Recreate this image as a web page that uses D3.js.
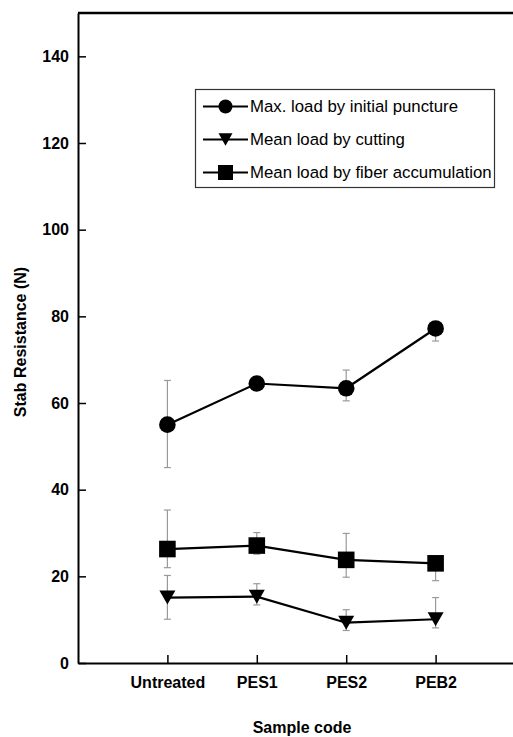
<!DOCTYPE html>
<html>
<head>
<meta charset="utf-8">
<script src="https://cdn.jsdelivr.net/npm/d3@7"></script>
<style>
  html, body { margin: 0; padding: 0; background: #fff; }
  svg { display: block; font-family: "Liberation Sans", Arial, sans-serif; }
</style>
</head>
<body>
<svg id="chart" width="513" height="737"></svg>
<script>
// Sample categories along the x axis
const categories = ["Untreated", "PES1", "PES2", "PEB2"];

// Stab resistance (N) per sample, with upper / lower error extents
const puncture = [55.0, 64.5, 63.4, 77.2];
const punctureErrHi = [10.2, 1.5, 4.2, 1.5];
const punctureErrLo = [9.9, 1.5, 2.9, 2.9];

const cutting = [15.1, 15.3, 9.3, 10.1];
const cuttingErrHi = [5.1, 3.0, 3.0, 5.0];
const cuttingErrLo = [5.0, 1.9, 1.8, 2.0];

const accumulation = [26.3, 27.1, 23.8, 23.0];
const accumulationErrHi = [9.0, 3.0, 6.1, 1.5];
const accumulationErrLo = [4.3, 2.0, 4.0, 4.0];

const seriesNames = [
  "Max. load by initial puncture",
  "Mean load by cutting",
  "Mean load by fiber accumulation"
];
const yTicks = [0, 20, 40, 60, 80, 100, 120, 140];

const series = [
  { name: seriesNames[0], shape: "circle",   values: puncture,     hi: punctureErrHi,     lo: punctureErrLo },
  { name: seriesNames[1], shape: "triangle", values: cutting,      hi: cuttingErrHi,      lo: cuttingErrLo },
  { name: seriesNames[2], shape: "square",   values: accumulation, hi: accumulationErrHi, lo: accumulationErrLo }
];

const svg = d3.select("#chart");

const x0 = 78, yBottom = 663, yTop = 13, step = 89.4;
const x = d3.scaleLinear().domain([0, 5]).range([x0, x0 + 5 * step]);
const y = d3.scaleLinear().domain([0, 150]).range([yBottom, yTop]);

// Marker shape generator (s = nominal width in px)
function markerPath(shape, s) {
  const h = s / 2;
  if (shape === "circle") {
    const p = d3.path();
    p.arc(0, 0, h, 0, 2 * Math.PI);
    p.closePath();
    return p.toString();
  }
  if (shape === "square") {
    return `M${-h},${-h}H${h}V${h}H${-h}Z`;
  }
  // downward pointing triangle
  const th = s * 0.88;
  return `M${-h},${-th / 2}H${h}L0,${th / 2}Z`;
}

// Top frame line
svg.append("line")
  .attr("x1", x0).attr("x2", 513)
  .attr("y1", yTop).attr("y2", yTop)
  .attr("stroke", "#000").attr("stroke-width", 2.5);

// Y axis
const yAxis = svg.append("g")
  .attr("transform", `translate(${x0},0)`)
  .call(d3.axisLeft(y).tickValues(yTicks).tickSize(-8).tickPadding(9).tickSizeOuter(0));
yAxis.select(".domain").attr("stroke-width", 2);
yAxis.selectAll(".tick line").attr("stroke-width", 1.5);
yAxis.selectAll(".tick text")
  .attr("font-size", 16).attr("font-weight", "bold").attr("fill", "#000")
  .attr("font-family", "Liberation Sans, Arial, sans-serif");

// X axis
const xAxis = svg.append("g")
  .attr("transform", `translate(0,${yBottom})`)
  .call(d3.axisBottom(x).tickValues([1, 2, 3, 4])
    .tickFormat(d => categories[d - 1]).tickSize(-8).tickPadding(14).tickSizeOuter(0));
xAxis.select(".domain").attr("stroke-width", 2);
xAxis.selectAll(".tick line").attr("stroke-width", 1.5);
xAxis.selectAll(".tick text")
  .attr("font-size", 16).attr("font-weight", "bold").attr("fill", "#000")
  .attr("font-family", "Liberation Sans, Arial, sans-serif");

// Axis titles
svg.append("text")
  .attr("x", 302).attr("y", 733)
  .attr("text-anchor", "middle")
  .attr("font-size", 16).attr("font-weight", "bold")
  .text("Sample code");

svg.append("text")
  .attr("transform", "translate(26,342) rotate(-90)")
  .attr("text-anchor", "middle")
  .attr("font-size", 16).attr("font-weight", "bold")
  .text("Stab Resistance (N)");

const plot = svg.append("g");

// Error bars
series.forEach(s => {
  s.values.forEach((v, i) => {
    const cx = x(i + 1);
    const g = plot.append("g").attr("stroke", "#9a9a9a").attr("stroke-width", 1.2);
    g.append("line").attr("x1", cx).attr("x2", cx)
      .attr("y1", y(v + s.hi[i])).attr("y2", y(v - s.lo[i]));
    [v + s.hi[i], v - s.lo[i]].forEach(e => {
      g.append("line").attr("x1", cx - 3.5).attr("x2", cx + 3.5)
        .attr("y1", y(e)).attr("y2", y(e));
    });
  });
});

// Lines
const line = d3.line().x((d, i) => x(i + 1)).y(d => y(d));
series.forEach(s => {
  plot.append("path")
    .attr("d", line(s.values))
    .attr("fill", "none").attr("stroke", "#000").attr("stroke-width", 2.2);
});

// Markers
const markerSize = { circle: 16.6, square: 16.6, triangle: 16 };
series.forEach(s => {
  plot.selectAll(null).data(s.values).enter().append("path")
    .attr("d", markerPath(s.shape, markerSize[s.shape]))
    .attr("transform", (d, i) => `translate(${x(i + 1)},${y(d)})`)
    .attr("fill", "#000");
});

// Legend
const legend = svg.append("g");
legend.append("rect")
  .attr("x", 195.5).attr("y", 89.5).attr("width", 299).attr("height", 98)
  .attr("fill", "#fff").attr("stroke", "#333").attr("stroke-width", 1.2);
const legendRows = [106.5, 139.5, 172.5];
const legendSize = { circle: 14, square: 15, triangle: 14 };
series.forEach((s, i) => {
  const ry = legendRows[i];
  legend.append("line").attr("x1", 203).attr("x2", 248)
    .attr("y1", ry).attr("y2", ry)
    .attr("stroke", "#000").attr("stroke-width", 2);
  legend.append("path")
    .attr("d", markerPath(s.shape, legendSize[s.shape]))
    .attr("transform", `translate(225.5,${ry})`)
    .attr("fill", "#000");
  legend.append("text")
    .attr("x", 250).attr("y", ry).attr("dy", "0.35em")
    .attr("font-size", 16.8).attr("fill", "#000")
    .text(s.name);
});
</script>
</body>
</html>
